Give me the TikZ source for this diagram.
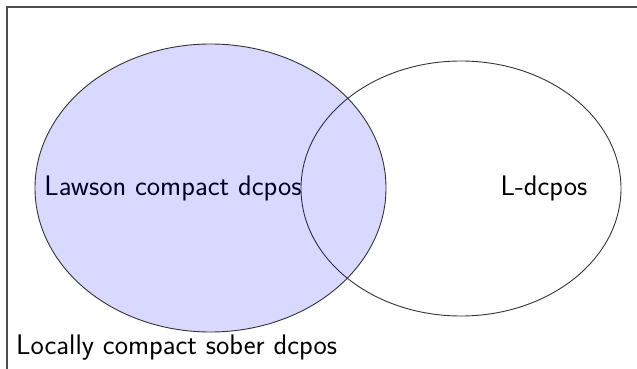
\documentclass[tikz,border=0pt]{standalone}
\begin{document}
\begin{tikzpicture}[x=1pt,y=-1pt,
  lbl/.style={font=\sffamily\fontsize{28.3}{32}\selectfont, inner sep=0pt}]
\useasboundingbox (0,0) rectangle (637,369);
\begin{scope}
\clip (0,0) rectangle (637,369);
\draw[line width=1.2pt, black!70] (7,7) rectangle (660,400);
\end{scope}
\node[lbl] (law) at (173,188) {Lawson compact dcpos};
\node[lbl] (ld) at (544,188) {L-dcpos};
\node[lbl, anchor=west] (loc) at (16,348) {Locally compact sober dcpos};
\draw[line width=0.9pt, black!80] (461,188.5) ellipse [x radius=160, y radius=127.5];
\draw[line width=0.9pt, black!80, fill=blue, fill opacity=0.15] (210.5,188) ellipse [x radius=175.5, y radius=144];
\end{tikzpicture}
\end{document}
